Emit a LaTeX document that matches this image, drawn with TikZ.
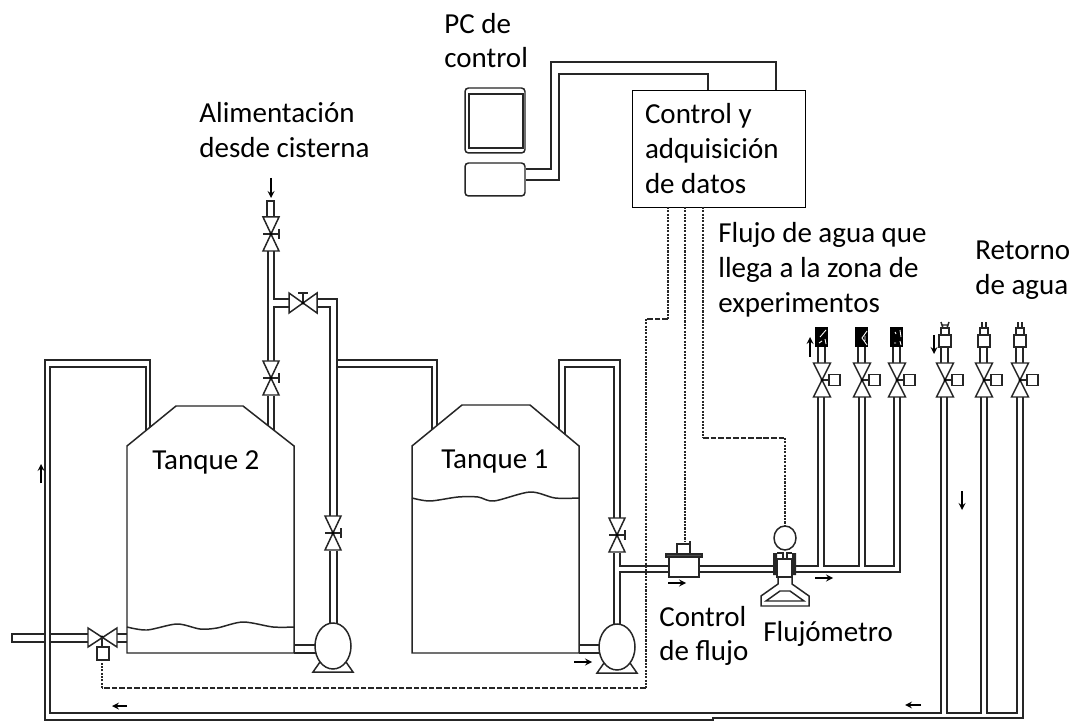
\documentclass[tikz,border=0pt]{standalone}
\usepackage{fontspec}
\setmainfont{Carlito}
\tikzset{
	pipe/.style={line width=0.85pt, black!85},
	senalh/.style={line width=0.7pt, black!85, dash pattern=on 3.2pt off 1.1pt},
	senalv/.style={line width=0.85pt, black!85, dash pattern=on 1.2pt off 0.7pt},
	flecha/.style={line width=0.75pt, -stealth},
	rotulo/.style={align=left, anchor=west, inner sep=0pt, font=\fontsize{16.5}{19.8}\selectfont},
	mota/.style={white, line width=0.5pt},
	manual/.pic={
		\draw[pipe, fill=white] (-8,-17) -- (8,-17) -- (-8,17) -- (8,17) -- cycle;
		\draw[pipe] (-8,0) -- (8,0) (8,-5) -- (8,5);
		\fill (0,0) circle (1.6);
	},
	motorizada/.pic={
		\draw[pipe, fill=white] (-8.5,-17) -- (8.5,-17) -- (-8.5,17) -- (8.5,17) -- cycle;
		\draw[pipe] (0,0) -- (7,0);
		\draw[pipe, fill=white] (7,-5.5) rectangle (18,5.5);
		\fill (0,0) circle (1.6);
	},
	bomba/.pic={
		\draw[pipe] (-13,16) -- (-20,26) -- (20,26) -- (13,16);
		\draw[pipe, fill=white] (0,0) ellipse (18 and 23);
	},
}
\begin{document}
\begin{tikzpicture}[x=0.02cm, y=-0.02cm]
	\useasboundingbox (0,0) rectangle (1071,722);
	\fill[white] (0,0) rectangle (1071,722);
	% tanques
	\draw[pipe] (127,653) -- (127,446) -- (176,406) -- (243,406) -- (294,446) -- (294,653) -- cycle;
	\draw[pipe] (412,653) -- (412,446) -- (462,405) -- (530,405) -- (579,446) -- (579,653) -- cycle;
	\draw[pipe] plot[smooth] coordinates {(127,627) (147,630) (177,624) (200,629) (217,628) (243,622) (273,627) (294,627)};
	\draw[pipe] plot[smooth] coordinates {(412,498) (430,501) (458,497) (478,497) (494,501) (530,492) (555,498) (579,498)};
	\node[rotulo] (tanquedos) at (152,462) {Tanque 2};
	\node[rotulo] (tanqueuno) at (441,462) {Tanque 1};
	% retorno al tanque 2
	\draw[pipe] (146,431) -- (146,367) -- (50,367) -- (50,713) -- (941,713) -- (941,397);
	\draw[pipe] (150,427) -- (150,360) -- (45,360) -- (45,720) -- (713,720) -- (713,718) -- (1023,718) -- (1023,397);
	\draw[pipe] (947,397) -- (947,713) -- (981,713) -- (981,397);
	\draw[pipe] (987,397) -- (987,713) -- (1017,713) -- (1017,397);
	% alimentacion
	\draw[pipe] (267,217) -- (267,201) -- (274,201) -- (274,217);
	\draw[pipe] (268,251) -- (268,361) (268,396) -- (268,426);
	\draw[pipe] (274,251) -- (274,299) -- (289,299) (289,307) -- (274,307) -- (274,361) (274,396) -- (274,430);
	\draw[pipe] (317,299) -- (337,299) -- (337,360) -- (437,360) -- (437,425);
	\draw[pipe] (317,307) -- (330,307) -- (330,516) (330,551) -- (330,625);
	\draw[pipe] (337,367) -- (432,367) -- (432,430);
	\draw[pipe] (337,360) -- (337,516) (337,551) -- (337,625);
	\draw[pipe] (294,645) -- (316,645) (294,653) -- (316,653);
	% tanque 1 y linea de flujo
	\draw[pipe] (559,429) -- (559,360) -- (620,360) -- (620,518) (620,553) -- (620,566) -- (669,566);
	\draw[pipe] (565,434) -- (565,367) -- (614,367) -- (614,518) (614,553) -- (614,625);
	\draw[pipe] (620,625) -- (620,572) -- (669,572);
	\draw[pipe] (579,645) -- (600,645) (579,653) -- (600,653);
	\draw[pipe] (699,566) -- (773,566) (699,572) -- (773,572);
	\draw[pipe] (796,566) -- (818,566) -- (818,397);
	\draw[pipe] (824,397) -- (824,566) -- (859,566) -- (859,397);
	\draw[pipe] (865,397) -- (865,566) -- (894,566) -- (894,397);
	\draw[pipe] (796,572) -- (900,572) -- (900,397);
	% salida
	\draw[pipe] (45,634) -- (12,634) -- (12,642) -- (45,642);
	\draw[pipe] (50,634) -- (90,634) (50,642) -- (90,642);
	\draw[pipe] (115,634) -- (127,634) (115,642) -- (127,642);
	\draw[pipe, fill=white] (88,628) -- (88,647) -- (117,628) -- (117,647) -- cycle;
	\fill (102,637) circle (1.6);
	\draw[pipe] (102,637) -- (102,647);
	\draw[pipe, fill=white] (97,647) rectangle (109,660);
	% valvulas
	\pic at (271,234) {manual};
	\pic at (271,378) {manual};
	\pic at (333,533) {manual};
	\pic at (617,535) {manual};
	\draw[pipe, fill=white] (289,293) -- (289,313) -- (317,293) -- (317,313) -- cycle;
	\draw[pipe] (303,303) -- (303,293) (298,293) -- (308,293);
	\fill (303,303) circle (1.6);
	\foreach \xv in {822,862,897,945,984,1020}{
		\draw[pipe] (\xv-4,347) -- (\xv-4,363) (\xv+3,347) -- (\xv+3,363);
		\pic at (\xv,380) {motorizada};
	}
	\foreach \xv in {822,862,897}{
		\fill[black] (\xv-7,327) rectangle (\xv+6,347);
	}
	\draw[mota] (820,337) -- (826,330) (819,343) -- (822,341) (825,339) -- (826,344);
	\draw[mota] (867,331) -- (862,338) -- (867,345) (865,336) -- (865,341);
	\draw[mota] (895,332) -- (896,334) (900,330) -- (901,337) (894,343) -- (896,343) (900,341) -- (901,345);
	\foreach \xv in {945,984,1020}{
		\draw[pipe, fill=white] (\xv-6,335) rectangle (\xv+6,347);
		\draw[pipe, fill=white] (\xv-4,328) rectangle (\xv+4,335);
	}
	\draw[pipe] (943,328) -- (941,322) (947,328) -- (949,322) (942,325) -- (948,325);
	\foreach \xv in {984,1020}{
		\draw[pipe] (\xv-2,328) -- (\xv-2,322) (\xv+2,328) -- (\xv+2,322);
	}
	% bombas
	\pic at (333,646) {bomba};
	\pic at (617,647) {bomba};
	% control de flujo
	\draw[pipe, fill=white] (669,557) rectangle (699,577);
	\draw[pipe, fill=black!70] (666,554) rectangle (702,557);
	\draw[pipe] (677,554) -- (677,544) -- (690,544) -- (690,554) (690,544) -- (690,541);
	% flujometro
	\draw[pipe, fill=white] (778,575) -- (778,584) -- (761,596) -- (761,606) -- (809,606) -- (809,596) -- (792,584) -- (792,575) -- cycle;
	\draw[pipe] (766,601) -- (804,601) -- (790,591) -- (780,591) -- cycle;
	\draw[pipe, fill=white] (777,559) rectangle (792,577);
	\fill[black!85] (773,553) rectangle (777,575) (792,553) rectangle (796,575);
	\draw[pipe] (777,553) -- (783,553) -- (783,559) (792,553) -- (787,553) -- (787,559);
	\draw[pipe, fill=white] (785,538) ellipse (11 and 12);
	% PC
	\node[draw, rounded corners=2pt, line width=0.85pt, black!85, minimum width=1.2cm, minimum height=1.3cm, inner sep=0pt] (pcmonitor) at (495,120.5) {};
	\draw[pipe] (469,94) rectangle (523,148);
	\node[draw, rounded corners=2pt, line width=0.85pt, black!85, minimum width=1.2cm, minimum height=0.66cm, inner sep=0pt] (pccaja) at (495,179.5) {};
	\node[draw, line width=0.5pt, minimum width=3.46cm, minimum height=2.34cm, text width=2.94cm, align=flush left, inner sep=0pt, font=\fontsize{16.5}{19.8}\selectfont] (adquisicion) at (718.5,148.5) {Control y\\adquisici\'on\\de datos};
	\draw[pipe] (pccaja.east |- 0,169) -- (551,169) -- (551,62) -- (776,62) -- (776,90);
	\draw[pipe] (pccaja.east |- 0,180) -- (559,180) -- (559,74) -- (708,74) -- (708,90);
	% senales
	\draw[senalv] (668,207) -- (668,319);
	\draw[senalh] (668,319) -- (646,319);
	\draw[senalv] (646,319) -- (646,688);
	\draw[senalh] (646,688) -- (102,688);
	\draw[senalv] (102,688) -- (102,660);
	\draw[senalv] (685,207) -- (685,542);
	\draw[senalv] (703,207) -- (703,438);
	\draw[senalh] (703,438) -- (785,438);
	\draw[senalv] (785,438) -- (785,526);
	% flechas
	\draw[flecha] (271,178) -- (271,198);
	\draw[flecha] (41,483) -- (41,464);
	\draw[flecha] (127,706) -- (112,706);
	\draw[flecha] (962,491) -- (962,510);
	\draw[flecha] (921,705) -- (905,705);
	\draw[flecha] (815,578) -- (833,578);
	\draw[flecha] (668,583) -- (686,583);
	\draw[flecha] (574,662) -- (592,662);
	\draw[flecha] (810,357) -- (810,337);
	\draw[flecha] (934,335) -- (934,354);
	% textos
	\node[rotulo] (pc) at (444,40.5) {PC de\\control};
	\node[rotulo] (alimentacion) at (199,130) {Alimentaci\'on\\desde cisterna};
	\node[rotulo] (flujoagua) at (718,270) {Flujo de agua que\\llega a la zona de\\experimentos};
	\node[rotulo] (retorno) at (975,270.5) {Retorno\\de agua};
	\node[rotulo] (controlflujo) at (659,636) {Control\\de flujo};
	\node[rotulo] (flujometro) at (763,633.5) {Flujómetro};
\end{tikzpicture}
\end{document}
